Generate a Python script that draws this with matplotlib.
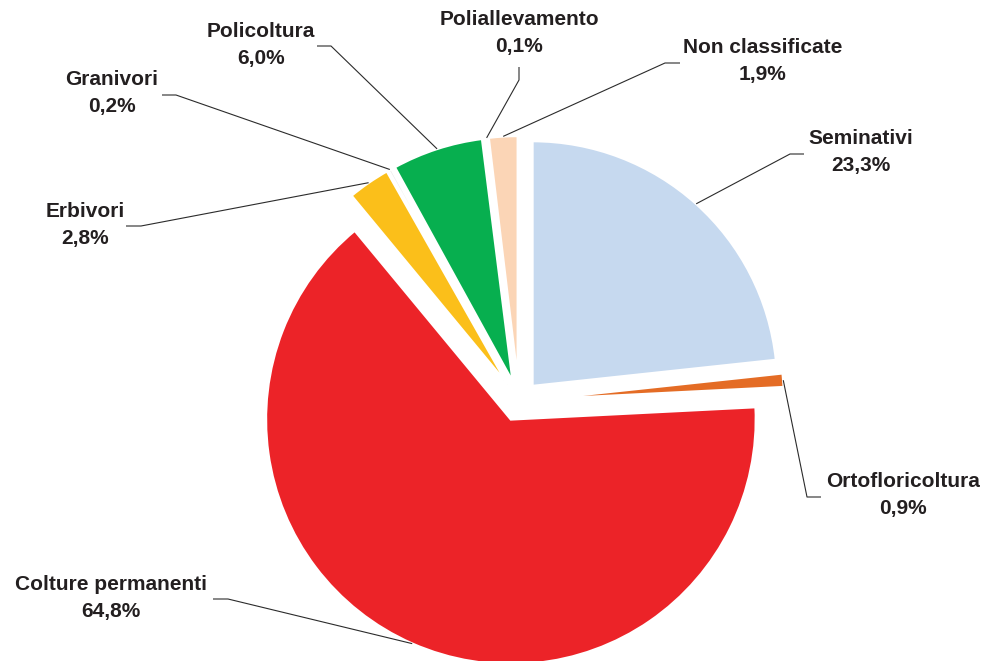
import numpy as np
import matplotlib
matplotlib.use("Agg")
import matplotlib.pyplot as plt

# --- data (clockwise from 12 o'clock) ---
categories = [
    "Seminativi", "Ortofloricoltura", "Colture permanenti", "Erbivori",
    "Granivori", "Policoltura", "Poliallevamento", "Non classificate",
]
shares = [23.3, 0.9, 64.8, 2.8, 0.2, 6.0, 0.1, 1.9]
colors = [
    "#C6D9EF", "#E46C25", "#EC2328", "#FBBF1A",
    "#E6E6E6", "#07AF4F", "#E6E6E6", "#FBD5B6",
]

# --- layout (pixel positions on a 987x661 canvas) ---
W, H = 987, 661
CX, CY, R = 519, 401, 245      # pie centre and radius in pixels
EXPLODE = 0.082

# label centre, then leader polyline from text side to elbow
label_pos = {
    "Seminativi": (861, 152),
    "Ortofloricoltura": (903, 495),
    "Colture permanenti": (111, 598),
    "Erbivori": (85, 225),
    "Granivori": (112, 93),
    "Policoltura": (261, 45),
    "Poliallevamento": (519, 33),
    "Non classificate": (763, 61),
}
leader_pos = {
    "Seminativi": [(804, 154), (790, 154)],
    "Ortofloricoltura": [(821, 497), (807, 497)],
    "Colture permanenti": [(213, 599), (228, 599)],
    "Erbivori": [(126, 226), (141, 226)],
    "Granivori": [(162, 95), (176, 95)],
    "Policoltura": [(317, 46), (331, 46)],
    "Poliallevamento": [(519, 67), (519, 80)],
    "Non classificate": [(680, 63), (665, 63)],
}


def px(x, y):
    """Pixel position -> data coordinates (pie radius = 1)."""
    return (x - CX) / R, (CY - y) / R


TEXT_COLOR = "#231F20"
plt.rcParams["font.family"] = ["Liberation Sans", "DejaVu Sans"]

fig = plt.figure(figsize=(W / 100, H / 100), dpi=100)
ax = fig.add_axes([0, 0, 1, 1])

wedges, _ = ax.pie(
    shares, colors=colors, startangle=90, counterclock=False,
    explode=[EXPLODE] * len(shares), radius=1.0,
    wedgeprops=dict(edgecolor="white", linewidth=1.8),
)

for w, name, val in zip(wedges, categories, shares):
    mid = np.deg2rad((w.theta1 + w.theta2) / 2)
    cx, cy = w.center
    anchor = (cx + np.cos(mid), cy + np.sin(mid))
    pts = [px(*p) for p in leader_pos[name]] + [anchor]
    xs, ys = zip(*pts)
    ax.plot(xs, ys, color="#2b2b2b", lw=0.8, solid_capstyle="butt")
    tx, ty = px(*label_pos[name])
    ax.text(tx, ty, f"{name}\n{val:.1f}%".replace(".", ","),
            ha="center", va="center", multialignment="center",
            fontsize=15, fontweight="bold", color=TEXT_COLOR, linespacing=1.55)

ax.set_xlim(-CX / R, (W - CX) / R)
ax.set_ylim(-(H - CY) / R, CY / R)
ax.set_aspect("auto")
ax.axis("off")

fig.savefig("out.png", dpi=100, facecolor="white")
